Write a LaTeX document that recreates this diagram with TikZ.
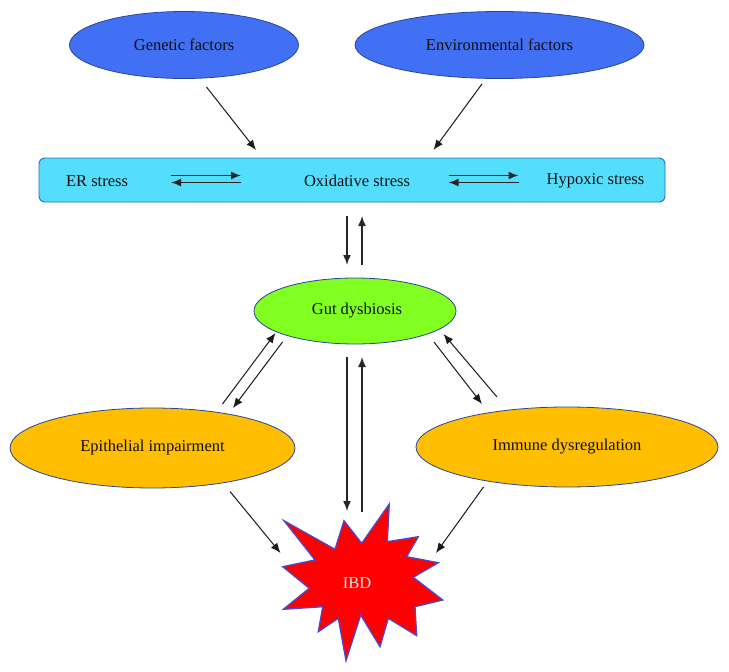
\documentclass[tikz,border=0pt]{standalone}
\usepackage{fontspec}
\setmainfont{Liberation Serif}
\newfontfamily\diagfont{Liberation Serif}
\usetikzlibrary{shapes.geometric,arrows.meta}
\definecolor{topblue}{RGB}{66,112,245}
\definecolor{boxcyan}{RGB}{84,222,253}
\definecolor{gutgreen}{RGB}{128,255,32}
\definecolor{immorange}{RGB}{255,190,0}
\definecolor{edgeblue}{RGB}{40,70,150}
\definecolor{boxedge}{RGB}{40,110,200}
\definecolor{stardge}{RGB}{80,70,200}
\definecolor{txt}{RGB}{15,15,15}
\definecolor{ibdtxt}{RGB}{245,225,225}
\tikzset{
  lbl/.style={font=\diagfont\fontsize{16.5}{20}\selectfont, text=txt},
  oval/.style={ellipse, draw=edgeblue, line width=0.8pt, inner sep=0pt, lbl},
  arr/.style={-{Latex[length=10pt,width=8pt]}, line width=1pt, draw=black!90},
  thickarr/.style={-{Latex[length=10pt,width=8pt]}, line width=1.5pt, draw=black!85},
}
\begin{document}
\begin{tikzpicture}[x=1pt,y=-1pt]
\useasboundingbox (0,0) rectangle (729,672);
% top factors
\node[oval, fill=topblue, minimum width=229pt, minimum height=67pt] (gen) at (184,45) {Genetic factors\hspace{12pt}};
\node[oval, fill=topblue, minimum width=289pt, minimum height=67pt] (env) at (499.5,45) {Environmental factors};
% stress box
\node[draw=boxedge, line width=0.9pt, fill=boxcyan, rounded corners=6pt, minimum width=626pt, minimum height=44pt, inner sep=0pt] (box) at (352,180) {};
\node[lbl] (er) at (97,181) {ER stress};
\node[lbl] (ox) at (357,181) {Oxidative stress};
\node[lbl] (hyp) at (595.5,181) {Hypoxic stress};
% gut dysbiosis
\node[oval, fill=gutgreen, minimum width=202pt, minimum height=66pt] (gut) at (355,311) {\hspace{4pt}Gut dysbiosis};
% middle ellipses
\node[oval, fill=immorange, minimum width=285pt, minimum height=80pt] (epi) at (152.5,448) {Epithelial impairment\hspace{11pt}};
\node[oval, fill=immorange, minimum width=302pt, minimum height=80pt] (imm) at (567,447) {Immune dysregulation};
% IBD star
\draw[draw=stardge, line width=1.3pt, fill=red, line join=miter]
  (284,520.7) -- (335,549.3) -- (344,520.7) -- (361.7,543.3) -- (389.3,504) -- (387.3,541.7)
  -- (418.3,536.7) -- (406.7,556.7) -- (438.3,562.7) -- (413.3,577.3) -- (442.7,600)
  -- (415,606.7) -- (416.7,635.7) -- (388.3,618.3) -- (380,646.7) -- (360.7,615)
  -- (346,660.7) -- (338.3,618.3) -- (318.3,631.7) -- (322.7,606.7) -- (283.3,609.3)
  -- (309.3,588.3) -- (282.7,566.7) -- (315,560) -- cycle;
\node[font=\diagfont\fontsize{16.5}{20}\selectfont, text=ibdtxt] (ibd) at (357,583) {IBD};
% arrow end points
\coordinate (g1) at (206.5,87);   \coordinate (g2) at (256,150);
\coordinate (e1) at (482,84);     \coordinate (e2) at (433.5,150);
\coordinate (a1) at (171,175.5);  \coordinate (a2) at (241,175.5);
\coordinate (a3) at (241,182.5);  \coordinate (a4) at (171,182.5);
\coordinate (b1) at (448.5,175.5);\coordinate (b2) at (518.5,175.5);
\coordinate (b3) at (518.5,182.5);\coordinate (b4) at (448.5,182.5);
\coordinate (v1) at (347,216);    \coordinate (v2) at (347,265);
\coordinate (v3) at (362,265);    \coordinate (v4) at (362,216);
\coordinate (l1) at (222.5,404);  \coordinate (l2) at (275.5,333);
\coordinate (l3) at (282.5,342);  \coordinate (l4) at (233,408);
\coordinate (r1) at (434,342);    \coordinate (r2) at (482,404);
\coordinate (r3) at (497,397);    \coordinate (r4) at (443.5,334);
\coordinate (c1) at (347,357);    \coordinate (c2) at (347,511);
\coordinate (c3) at (362,512);    \coordinate (c4) at (362,357);
\coordinate (p1) at (230,491.5);  \coordinate (p2) at (280.5,553);
\coordinate (q1) at (483.5,487);  \coordinate (q2) at (436,553);
% arrows
\draw[arr] (g1) -- (g2);
\draw[arr] (e1) -- (e2);
\draw[thickarr] (a1) -- (a2);
\draw[thickarr] (a3) -- (a4);
\draw[thickarr] (b1) -- (b2);
\draw[thickarr] (b3) -- (b4);
\draw[thickarr] (v1) -- (v2);
\draw[thickarr] (v3) -- (v4);
\draw[arr] (l1) -- (l2);
\draw[arr] (l3) -- (l4);
\draw[arr] (r1) -- (r2);
\draw[arr] (r3) -- (r4);
\draw[thickarr] (c1) -- (c2);
\draw[thickarr] (c3) -- (c4);
\draw[arr] (p1) -- (p2);
\draw[arr] (q1) -- (q2);
\end{tikzpicture}
\end{document}
